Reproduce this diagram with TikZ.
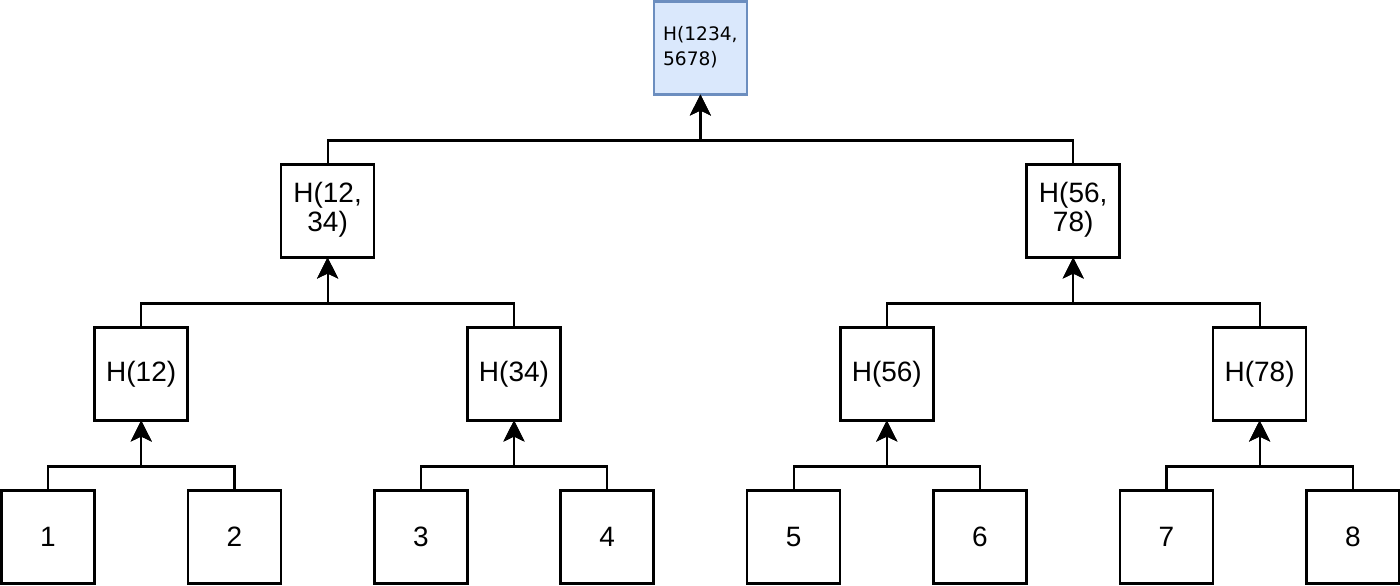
\documentclass[tikz,border=0pt]{standalone}
\usepackage{fontspec}
\setmainfont{Liberation Sans}
\newfontfamily\rootfont{DejaVu Sans}
\usetikzlibrary{matrix, arrows.meta}
\definecolor{rootfill}{HTML}{DAE8FC}
\definecolor{rootline}{HTML}{6C8EBF}
\tikzset{>={Stealth[length=10.5pt, width=10.5pt, inset=2.5pt]}}
\tikzset{
  hashbox/.style={draw, line width=1.3pt, minimum width=46.5pt, minimum height=46.5pt,
    inner sep=0pt, outer sep=0pt, font=\fontsize{14}{14}\selectfont},
  rootbox/.style={hashbox, draw=rootline, fill=rootfill, line width=1.3pt,
    font=\rootfont\fontsize{9.3}{12.5}\selectfont},
  busline/.style={to path={(\tikztostart.north) -- ++(0,12pt) -| (\tikztotarget.south)}}
}
\newcommand{\twolines}[3][c]{\begin{tabular}{@{}#1@{}}#2\\#3\end{tabular}}

\begin{document}
\begin{tikzpicture}
\useasboundingbox (0,0) rectangle (700pt,-292.5pt);
% line width of the boxes is taken off the gaps
\matrix (m) 
[matrix of nodes, anchor=north west, inner sep=0pt, outer sep=0pt,
 row sep=33.7pt, column sep=-1.2pt, nodes={hashbox, anchor=center}]
at (0.1pt,-0.1pt)
{
 & & & & & & & |[rootbox]| \twolines[l]{H(1234,}{5678)} & & & & & & & \\
 & & & \twolines{H(12,}{34)} & & & & & & & & \twolines{H(56,}{78)} & & & \\
 & H(12) & & & & H(34) & & & & H(56) & & & & H(78) & \\
1 & & 2 & & 3 & & 4 & & 5 & & 6 & & 7 & & 8 \\
};
\path[->, line width=1.1pt]
(m-4-1) edge[busline] (m-3-2)
(m-4-3) edge[busline] (m-3-2)
(m-4-5) edge[busline] (m-3-6)
(m-4-7) edge[busline] (m-3-6)
(m-4-9) edge[busline] (m-3-10)
(m-4-11) edge[busline] (m-3-10)
(m-4-13) edge[busline] (m-3-14)
(m-4-15) edge[busline] (m-3-14)
(m-3-2) edge[busline] (m-2-4)
(m-3-6) edge[busline] (m-2-4)
(m-3-10) edge[busline] (m-2-12)
(m-3-14) edge[busline] (m-2-12)
(m-2-4) edge[busline] (m-1-8)
(m-2-12) edge[busline] (m-1-8)
;
\end{tikzpicture}
\end{document}
